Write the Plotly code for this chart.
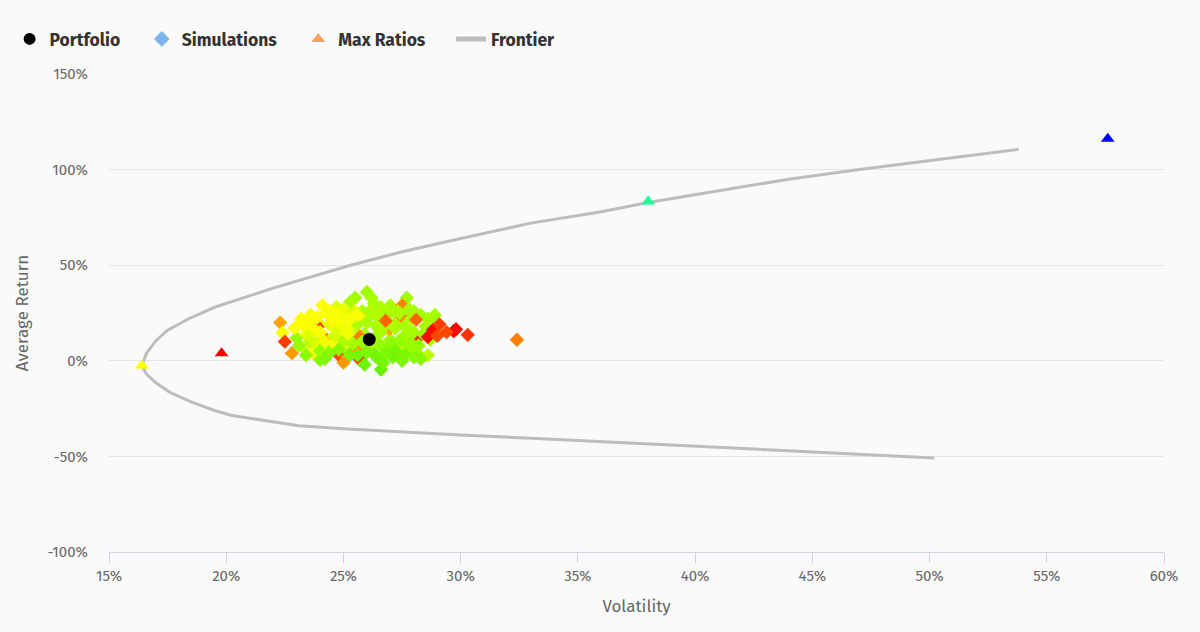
import plotly.graph_objects as go

# ---------------- data (percent) ----------------
portfolio_vol = [26.1]
portfolio_ret = [11.2]

# simulated portfolios: volatility, return, colour score (0 red -> 1 green)
sim_vol = [
    26.0, 25.5, 27.7, 24.1, 24.7, 25.4, 26.3, 26.6, 27.0, 27.5, 28.0, 28.3, 28.9, 28.6,
    22.3, 23.2, 23.6, 23.9, 24.3, 23.9, 24.6, 25.0, 24.6, 25.5, 25.8, 26.2, 26.5, 26.9,
    27.3, 27.5, 26.9, 27.9, 28.1, 28.5, 29.0, 28.8, 29.1, 29.8, 29.7, 30.3, 32.4,
    22.4, 22.5, 23.0, 23.4, 23.6, 23.8, 24.1, 24.3, 24.7, 24.9, 25.1, 25.4, 25.6, 25.9,
    25.7, 26.4, 26.7, 27.0, 27.0, 27.5, 27.8, 28.1, 28.4, 28.7, 28.6, 29.0, 29.4,
    22.8, 23.3, 23.7, 24.0, 24.0, 24.5, 24.8, 25.0, 25.3, 25.6, 25.8, 26.1, 26.3, 26.6,
    26.6, 26.9, 27.1, 27.4, 27.7, 28.0, 28.3, 28.6, 25.7,
    23.0, 23.5, 24.4, 24.8, 25.2, 25.6, 26.0, 26.4, 26.8, 27.2, 27.6, 28.0,
    23.8, 24.2, 24.6, 25.0, 25.4, 25.8, 26.2, 26.6, 27.0, 27.4, 27.8, 28.2,
    24.0, 24.4, 24.8, 25.2, 25.6, 26.0, 26.4, 26.8, 27.2, 27.6, 28.0,
    24.6, 25.0, 25.4, 25.8, 26.2, 26.6, 27.0, 27.4, 27.8,
    23.4, 24.2, 25.0, 25.9, 26.7, 27.5, 28.3, 22.9, 23.1, 24.6, 25.3, 26.2, 27.9,
    23.3, 23.7, 24.5, 24.9, 25.3, 23.5, 24.0, 24.4, 25.2, 23.9, 24.8, 25.6, 26.8, 27.3,
]
sim_ret = [
    36, 33, 33, 29, 28, 27, 30, 28, 29, 29, 26, 24, 24, 22,
    20, 22, 24, 20, 25, 18, 22, 24, 18, 20.5, 23, 25, 22, 24,
    21, 23, 17, 22, 21.5, 18, 20, 16, 19, 16.5, 15.5, 13.6, 11,
    14.7, 10, 12, 14, 10, 16, 12, 11, 16, 10, 13, 16, 11, 14,
    12.6, 13, 16, 11, 17, 12, 15, 11, 14, 11, 12.5, 13, 15,
    4, 7, 4, 8, 0.5, 6, 3, 8, 4, 6, 2, 8, 4, 0,
    -4.6, 6, 2, 8, 4, 6, 2, 3, 0.5,
    18, 16, 19, 17, 18, 19, 20, 18, 19, 17, 18, 15,
    9, 10, 9, 11, 9, 10, 9, 8, 9, 10, 9, 8,
    5, 4, 6, 2, 3, 5, 2, 4, 5, 3, 2,
    26, 27, 25, 26, 27, 24, 26, 25, 27,
    3, 1, -1, -2, -1, 0, 1, 17, 8, 13, 31, 33, 9,
    19, 21, 21, 19, 22, 13, 15, 26, 14, 23, 21, 24, 21, 26,
]
sim_score = [
    0.78, 0.78, 0.78, 0.50, 0.62, 0.52, 0.75, 0.75, 0.74, 0.25, 0.76, 0.76, 0.76, 0.76,
    0.32, 0.50, 0.50, 0.62, 0.52, 0.12, 0.50, 0.52, 0.15, 0.02, 0.52, 0.74, 0.74, 0.74,
    0.74, 0.28, 0.33, 0.74, 0.20, 0.76, 0.76, 0.02, 0.12, 0.01, 0.02, 0.10, 0.25,
    0.50, 0.12, 0.80, 0.50, 0.80, 0.50, 0.62, 0.25, 0.52, 0.80, 0.52, 0.62, 0.78, 0.76,
    0.25, 0.76, 0.74, 0.78, 0.32, 0.76, 0.76, 0.06, 0.76, 0.76, 0.02, 0.14, 0.14,
    0.30, 0.62, 0.52, 0.80, 0.84, 0.80, 0.15, 0.62, 0.88, 0.30, 0.80, 0.88, 0.88, 0.90,
    0.92, 0.88, 0.88, 0.76, 0.88, 0.78, 0.80, 0.70, 0.12,
    0.52, 0.52, 0.55, 0.62, 0.50, 0.74, 0.76, 0.74, 0.76, 0.74, 0.76, 0.76,
    0.62, 0.55, 0.52, 0.74, 0.76, 0.78, 0.76, 0.80, 0.82, 0.80, 0.78, 0.80,
    0.80, 0.82, 0.84, 0.86, 0.88, 0.86, 0.88, 0.86, 0.88, 0.86, 0.84,
    0.52, 0.55, 0.62, 0.74, 0.74, 0.74, 0.76, 0.76, 0.76,
    0.82, 0.86, 0.30, 0.90, 0.88, 0.86, 0.84, 0.50, 0.80, 0.62, 0.76, 0.76, 0.80,
    0.50, 0.52, 0.50, 0.55, 0.52, 0.60, 0.50, 0.52, 0.55, 0.50, 0.52, 0.50, 0.20, 0.74,
]

max_vol = [16.4, 19.8, 38.0, 57.6]
max_ret = [-2.5, 4.0, 83.3, 116.2]
max_colors = ["#ffff00", "#ff0000", "#1aff9c", "#0000ff"]

frontier_vol = [53.8, 50.0, 47.0, 44.0, 41.0, 38.0, 36.0, 33.0, 30.0, 27.5, 25.3, 23.5, 22.0,
                20.5, 19.5, 18.4, 17.5, 17.0, 16.6, 16.4,
                16.6, 17.0, 17.6, 18.5, 19.5, 20.2, 21.5, 23.1, 25.0, 27.5, 30.0, 33.0,
                36.0, 40.0, 44.0, 47.0, 50.2]
frontier_ret = [110.6, 104.8, 100.0, 95.0, 89.0, 82.8, 78.0, 72.0, 64.0, 57.0, 50.0, 43.5, 38.0,
                32.0, 28.0, 22.0, 16.0, 10.5, 4.0, -2.5,
                -7.0, -11.5, -16.5, -21.5, -26.0, -28.5, -31.0, -34.0, -35.6, -37.3, -38.8,
                -40.5, -42.3, -45.0, -47.3, -49.0, -50.8]

x_ticks = [15, 20, 25, 30, 35, 40, 45, 50, 55, 60]
y_ticks = [-100, -50, 0, 50, 100, 150]

FONT = "Fira Sans, Roboto, Noto Sans, sans-serif"
BG = "#fafafa"
PAD = "\u00a0" * 4

fig = go.Figure()

fig.add_trace(go.Scatter(x=frontier_vol, y=frontier_ret, mode="lines",
                         line=dict(color="#bdbdbd", width=3), showlegend=False,
                         hoverinfo="skip"))
fig.add_trace(go.Scatter(x=sim_vol, y=sim_ret, mode="markers", showlegend=False,
                         marker=dict(symbol="diamond", size=11, color=sim_score,
                                     cmin=0, cmax=1,
                                     colorscale=[[0, "#ff0000"], [0.25, "#ff8000"],
                                                 [0.5, "#ffff00"], [0.75, "#aaff00"],
                                                 [1, "#44ee00"]],
                                     line=dict(width=0))))
fig.add_trace(go.Scatter(x=max_vol, y=max_ret, mode="markers", showlegend=False,
                         marker=dict(symbol="triangle-up", size=12, color=max_colors,
                                     line=dict(width=0))))
fig.add_trace(go.Scatter(x=portfolio_vol, y=portfolio_ret, mode="markers", showlegend=False,
                         marker=dict(symbol="circle", size=13, color="#000000",
                                     line=dict(width=0))))

fig.add_trace(go.Scatter(x=[None], y=[None], mode="markers", name="Portfolio" + PAD,
                         marker=dict(symbol="circle", size=12, color="#000000")))
fig.add_trace(go.Scatter(x=[None], y=[None], mode="markers", name="Simulations" + PAD,
                         marker=dict(symbol="diamond", size=10, color="#7cb5ec")))
fig.add_trace(go.Scatter(x=[None], y=[None], mode="markers", name="Max Ratios" + PAD + "\u00a0",
                         marker=dict(symbol="triangle-up", size=12, color="#f7a35c")))
fig.add_trace(go.Scatter(x=[None], y=[None], mode="lines", name="Frontier",
                         line=dict(color="#bdbdbd", width=3)))

fig.update_layout(
    width=1200, height=632,
    paper_bgcolor=BG, plot_bgcolor=BG,
    margin=dict(l=109, r=36, t=74, b=80, autoexpand=False),
    font=dict(family=FONT, color="#666666", size=15),
    showlegend=True,
    legend=dict(orientation="h", x=0.008, xanchor="left", y=1 - 39 / 632, yanchor="middle",
                yref="container", xref="container",
                font=dict(family=FONT, size=17.5, color="#333333", weight="bold"),
                bgcolor="rgba(0,0,0,0)", itemsizing="constant"),
    xaxis=dict(range=[15, 60], tickvals=x_ticks, ticktext=[f"{v}%" for v in x_ticks],
               showgrid=False, zeroline=False, showline=True, linecolor="#ccd6eb",
               linewidth=1, ticks="outside", ticklen=10, tickcolor="#ccd6eb",
               tickfont=dict(size=15, color="#666666"),
               title=dict(text="Volatility", font=dict(size=17, color="#666666"), standoff=16)),
    yaxis=dict(range=[-100, 150], tickvals=y_ticks, ticktext=[f"{v}%" for v in y_ticks],
               showgrid=True, gridcolor="#e6e6e6", gridwidth=1, zeroline=False,
               showline=False, ticks="", ticklabelstandoff=20,
               tickfont=dict(size=15, color="#666666"),
               title=dict(text="Average Return", font=dict(size=17, color="#666666"), standoff=14)),
)

fig.write_html("out.html")
